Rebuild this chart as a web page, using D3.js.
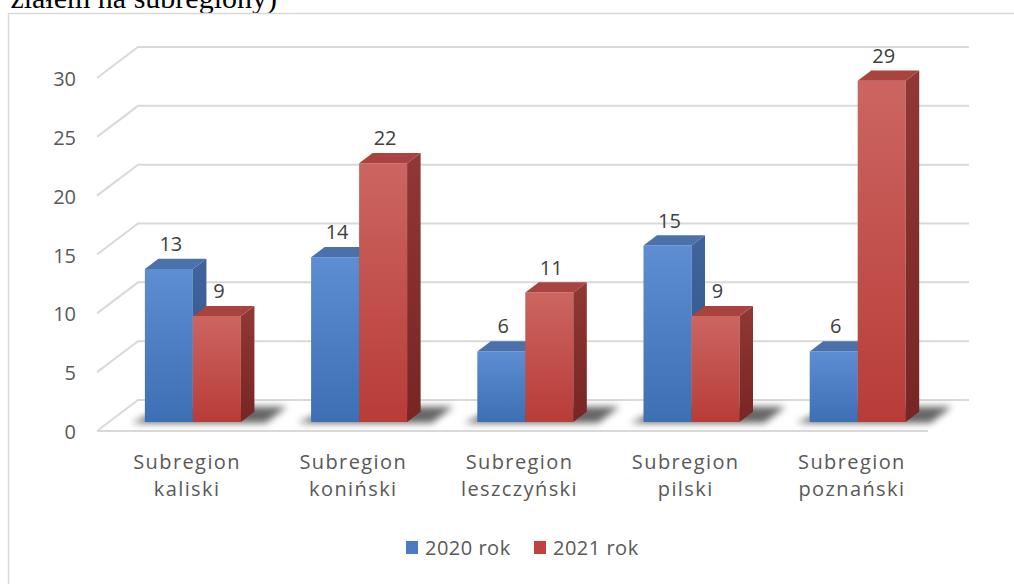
<!DOCTYPE html>
<html>
<head>
<meta charset="utf-8">
<script src="https://cdn.jsdelivr.net/npm/d3@7"></script>
<style>
  html, body { margin: 0; padding: 0; background: #fff; }
  svg { display: block; }
</style>
</head>
<body>
<div id="chart"></div>
<script>
// chart data
var categories = ["Subregion kaliski", "Subregion koniński", "Subregion leszczyński", "Subregion pilski", "Subregion poznański"];
var seriesNames = ["2020 rok", "2021 rok"];
var values2020 = [13, 14, 6, 15, 6];
var values2021 = [9, 22, 11, 9, 29];
var yTicks = [0, 5, 10, 15, 20, 25, 30];

(function () {
    "use strict";

    var W = 1014, H = 584;
    var font = "'Open Sans', 'Noto Sans', sans-serif";

    // oblique 3D: depth 0..1 shifts right and up
    var depthX = 41, depthY = 31;
    var barD0 = 0.29, barD1 = 0.62;

    var svg = d3.select("#chart").append("svg")
        .attr("width", W)
        .attr("height", H);

    var defs = svg.append("defs");

    function vGrad(id, c0, c1) {
        var g = defs.append("linearGradient").attr("id", id)
            .attr("x1", 0).attr("y1", 0).attr("x2", 0).attr("y2", 1);
        g.append("stop").attr("offset", "0%").attr("stop-color", c0);
        g.append("stop").attr("offset", "100%").attr("stop-color", c1);
    }
    vGrad("blueFront", "#5d8dd2", "#3d6fb5");
    vGrad("blueSide", "#40659c", "#2f5288");
    vGrad("redFront", "#cc6561", "#b83c38");
    vGrad("redSide", "#903835", "#782523");

    defs.append("filter").attr("id", "shadowBlur")
        .attr("x", "-30%").attr("y", "-60%").attr("width", "160%").attr("height", "220%")
        .append("feGaussianBlur").attr("stdDeviation", 3.5);

    var styles = {
        "2020 rok": { front: "url(#blueFront)", side: "url(#blueSide)", top: "#4a71aa", key: "#4a7cc3" },
        "2021 rok": { front: "url(#redFront)", side: "url(#redSide)", top: "#a9433f", key: "#c0423e" }
    };

    var x0 = d3.scaleBand().domain(categories).range([97, 928]).padding(0);
    var x1 = d3.scaleBand().domain(seriesNames).range([36, 132]).padding(0);
    var y = d3.scaleLinear().domain([0, 30]).range([431, 78]);

    function P(x, yy, d) {
        return [x + d * depthX, yy - d * depthY];
    }

    // title fragment (cut off at the top of the picture, as in the source)
    svg.append("text")
        .attr("x", 277).attr("y", 8)
        .attr("text-anchor", "end")
        .style("font-family", "'Liberation Serif', 'Times New Roman', serif")
        .style("font-size", "30px")
        .style("fill", "#000")
        .text("ziałem na subregiony)");

    // chart border
    svg.append("path")
        .attr("d", "M8.5," + H + "V13.5H" + W)
        .attr("fill", "none")
        .attr("stroke", "#d9d9d9")
        .attr("stroke-width", 1.5);

    // gridlines: side wall diagonal + back wall
    var grid = svg.append("g").attr("fill", "none").attr("stroke", "#d9d9d9").attr("stroke-width", 2);
    grid.selectAll("path.grid")
        .data(yTicks)
        .enter().append("path")
        .attr("class", "grid")
        .attr("d", function (v) {
            var a = P(x0.range()[0], y(v), 0), b = P(x0.range()[0], y(v), 1), c = P(x0.range()[1], y(v), 1);
            return "M" + a + "L" + b + "L" + c;
        });
    // floor front edge
    grid.append("path")
        .attr("d", "M" + P(x0.range()[0], y(0), 0) + "L" + P(x0.range()[1], y(0), 0));

    // tick labels
    svg.append("g").selectAll("text")
        .data(yTicks)
        .enter().append("text")
        .attr("x", 76)
        .attr("y", function (v) { return y(v) + 8; })
        .attr("text-anchor", "end")
        .style("font-family", font)
        .style("font-size", "20px")
        .style("fill", "#595959")
        .text(function (v) { return v; });

    var rows = categories.map(function (c, i) {
        return { cat: c, vals: [values2020[i], values2021[i]] };
    });

    // floor shadows
    svg.append("g").attr("filter", "url(#shadowBlur)")
        .selectAll("path")
        .data(rows)
        .enter().append("path")
        .attr("fill", "#000")
        .attr("opacity", 0.6)
        .attr("d", function (r) {
            var xl = x0(r.cat) + x1.range()[0] - 12;
            var xr = x0(r.cat) + x1.range()[1] + 26;
            var pts = [P(xl, y(0), 0.26), P(xr, y(0), 0.26), P(xr, y(0), 0.78), P(xl + 14, y(0), 0.78)];
            return "M" + pts.join("L") + "Z";
        });

    // bars
    var bars = [];
    rows.forEach(function (r) {
        seriesNames.forEach(function (s, j) {
            bars.push({ cat: r.cat, series: s, value: r.vals[j] });
        });
    });

    var barG = svg.append("g").selectAll("g.bar")
        .data(bars)
        .enter().append("g")
        .attr("class", "bar");

    function face(pts) { return "M" + pts.join("L") + "Z"; }

    barG.each(function (b) {
        var g = d3.select(this);
        var st = styles[b.series];
        var xl = x0(b.cat) + x1(b.series), xr = xl + x1.bandwidth();
        var y0 = y(0), yv = y(b.value);
        var f = [P(xl, yv, barD0), P(xr, yv, barD0), P(xr, y0, barD0), P(xl, y0, barD0)];
        g.append("path").attr("d", face(f)).attr("fill", st.front);
        var side = [P(xr, yv, barD0), P(xr, yv, barD1), P(xr, y0, barD1), P(xr, y0, barD0)];
        g.append("path").attr("d", face(side)).attr("fill", st.side);
        var top = [P(xl, yv, barD0), P(xl, yv, barD1), P(xr, yv, barD1), P(xr, yv, barD0)];
        g.append("path").attr("d", face(top)).attr("fill", st.top);
    });

    // value labels
    svg.append("g").selectAll("text")
        .data(bars)
        .enter().append("text")
        .attr("x", function (b) { return P(x0(b.cat) + x1(b.series) + x1.bandwidth() / 2, 0, barD0)[0] + 2; })
        .attr("y", function (b) { return P(0, y(b.value), barD0)[1] - 18; })
        .attr("text-anchor", "middle")
        .style("font-family", font)
        .style("font-size", "20px")
        .style("fill", "#404040")
        .text(function (b) { return b.value; });

    // category labels (two lines)
    var catLab = svg.append("g").selectAll("text")
        .data(categories)
        .enter().append("text")
        .attr("text-anchor", "middle")
        .style("font-family", font)
        .style("font-size", "20px")
        .style("letter-spacing", "1.4px")
        .style("fill", "#595959");
    catLab.each(function (c) {
        var t = d3.select(this);
        var cx = x0(c) + x0.bandwidth() / 2 + 7;
        var parts = c.split(" ");
        t.append("tspan").attr("x", cx).attr("y", 469).text(parts[0]);
        t.append("tspan").attr("x", cx).attr("y", 496).text(parts.slice(1).join(" "));
    });

    // legend
    var legendX = [406, 534];
    var leg = svg.append("g").selectAll("g")
        .data(seriesNames)
        .enter().append("g")
        .attr("transform", function (s, i) { return "translate(" + legendX[i] + ",541)"; });
    leg.append("rect")
        .attr("width", 12).attr("height", 13)
        .attr("fill", function (s) { return styles[s].key; });
    leg.append("text")
        .attr("x", 19).attr("y", 14)
        .style("font-family", font)
        .style("font-size", "20px")
        .style("letter-spacing", "0.5px")
        .style("fill", "#595959")
        .text(function (s) { return s; });
})();
</script>
</body>
</html>
